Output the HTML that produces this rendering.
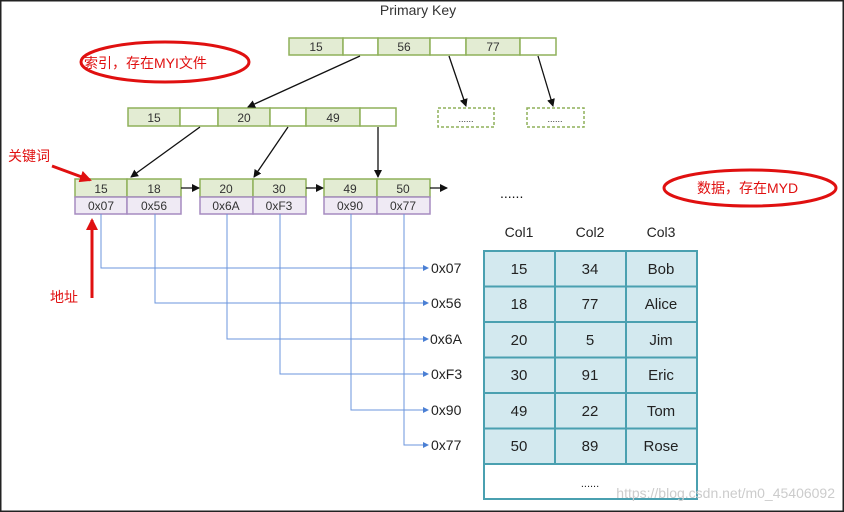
<!DOCTYPE html>
<html><head><meta charset="utf-8"><style>
html,body{margin:0;padding:0;background:#fff}
svg{display:block}
text{font-family:"Liberation Sans","Noto Sans CJK SC",sans-serif}
</style></head><body>
<svg width="844" height="512" viewBox="0 0 844 512" xmlns="http://www.w3.org/2000/svg">
<defs>
<marker id="a" markerWidth="8" markerHeight="8" refX="7" refY="4" orient="auto" markerUnits="userSpaceOnUse"><path d="M0,0 L8,4 L0,8 z" fill="#111"/></marker>
<marker id="b" markerWidth="6" markerHeight="6" refX="5" refY="3" orient="auto" markerUnits="userSpaceOnUse"><path d="M0,0 L6,3 L0,6 z" fill="#4a7fd4"/></marker>
<marker id="r" markerWidth="12" markerHeight="12" refX="10" refY="6" orient="auto" markerUnits="userSpaceOnUse"><path d="M0,0 L12,6 L0,12 z" fill="#e01010"/></marker>
</defs>
<rect x="0.5" y="0.5" width="843" height="511" fill="#fff" stroke="#222" stroke-width="2"/>
<text x="418" y="15" font-size="14" text-anchor="middle" fill="#333">Primary Key</text>
<g stroke="#8fb15a" stroke-width="1.5" font-size="12">
<rect x="289" y="38" width="54" height="17" fill="#e3ecd3"/><rect x="343" y="38" width="35" height="17" fill="#fff"/>
<rect x="378" y="38" width="52" height="17" fill="#e3ecd3"/><rect x="430" y="38" width="36" height="17" fill="#fff"/>
<rect x="466" y="38" width="54" height="17" fill="#e3ecd3"/><rect x="520" y="38" width="36" height="17" fill="#fff"/>
<rect x="128" y="108" width="52" height="18" fill="#e3ecd3"/><rect x="180" y="108" width="38" height="18" fill="#fff"/>
<rect x="218" y="108" width="52" height="18" fill="#e3ecd3"/><rect x="270" y="108" width="36" height="18" fill="#fff"/>
<rect x="306" y="108" width="54" height="18" fill="#e3ecd3"/><rect x="360" y="108" width="36" height="18" fill="#fff"/>
<rect x="438" y="108" width="56" height="19" fill="#fff" stroke-dasharray="3,2"/>
<rect x="527" y="108" width="57" height="19" fill="#fff" stroke-dasharray="3,2"/>
<rect x="75" y="179" width="52" height="18" fill="#e3ecd3"/><rect x="127" y="179" width="54" height="18" fill="#e3ecd3"/>
<rect x="200" y="179" width="53" height="18" fill="#e3ecd3"/><rect x="253" y="179" width="53" height="18" fill="#e3ecd3"/>
<rect x="324" y="179" width="53" height="18" fill="#e3ecd3"/><rect x="377" y="179" width="53" height="18" fill="#e3ecd3"/>
</g>
<g stroke="#a68bc0" stroke-width="1.5" fill="#efeaf4">
<rect x="75" y="197" width="52" height="17"/><rect x="127" y="197" width="54" height="17"/>
<rect x="200" y="197" width="53" height="17"/><rect x="253" y="197" width="53" height="17"/>
<rect x="324" y="197" width="53" height="17"/><rect x="377" y="197" width="53" height="17"/>
</g>
<g font-size="12" fill="#333" text-anchor="middle">
<text x="316" y="51">15</text><text x="404" y="51">56</text><text x="493" y="51">77</text>
<text x="154" y="122">15</text><text x="244" y="122">20</text><text x="333" y="122">49</text>
<text x="466" y="122" font-size="9">......</text><text x="555" y="122" font-size="9">......</text>
<text x="101" y="193">15</text><text x="154" y="193">18</text><text x="226" y="193">20</text><text x="279" y="193">30</text><text x="350" y="193">49</text><text x="403" y="193">50</text>
<text x="101" y="210">0x07</text><text x="154" y="210">0x56</text><text x="226" y="210">0x6A</text><text x="279" y="210">0xF3</text><text x="350" y="210">0x90</text><text x="403" y="210">0x77</text>
</g>
<g stroke="#111" stroke-width="1.3" marker-end="url(#a)">
<line x1="360" y1="56" x2="248" y2="107"/>
<line x1="449" y1="56" x2="466" y2="106"/>
<line x1="538" y1="56" x2="553" y2="106"/>
<line x1="200" y1="127" x2="131" y2="177"/>
<line x1="288" y1="127" x2="254" y2="177"/>
<line x1="378" y1="127" x2="378" y2="177"/>
<line x1="181" y1="188" x2="199" y2="188"/>
<line x1="306" y1="188" x2="323" y2="188"/>
<line x1="430" y1="188" x2="447" y2="188"/>
</g>
<text x="500" y="198" font-size="14" fill="#111">......</text>
<g stroke="#6b95dc" stroke-width="1" fill="none" marker-end="url(#b)">
<path d="M101,214 V268 H428"/><path d="M155,214 V303 H428"/><path d="M227,214 V339 H428"/>
<path d="M280,214 V374 H428"/><path d="M351,214 V410 H428"/><path d="M404,214 V445 H428"/>
</g>
<g font-size="14" fill="#222">
<text x="431" y="273">0x07</text><text x="431" y="308">0x56</text><text x="430" y="344">0x6A</text>
<text x="431" y="379">0xF3</text><text x="431" y="415">0x90</text><text x="431" y="450">0x77</text>
</g>
<g font-size="14" fill="#222" text-anchor="middle">
<text x="519" y="237">Col1</text><text x="590" y="237">Col2</text><text x="661" y="237">Col3</text>
</g>
<rect x="484" y="251" width="213" height="248" fill="#fff" stroke="#4aa0b0" stroke-width="2"/>
<rect x="484" y="251" width="213" height="213" fill="#d3e9ef" stroke="#4aa0b0" stroke-width="2"/>
<g stroke="#4aa0b0" stroke-width="2">
<line x1="555" y1="251" x2="555" y2="464"/><line x1="626" y1="251" x2="626" y2="464"/>
<line x1="484" y1="286.5" x2="697" y2="286.5"/><line x1="484" y1="322" x2="697" y2="322"/>
<line x1="484" y1="357.5" x2="697" y2="357.5"/><line x1="484" y1="393" x2="697" y2="393"/>
<line x1="484" y1="428.5" x2="697" y2="428.5"/>
</g>
<g font-size="15" fill="#222" text-anchor="middle">
<text x="519" y="274">15</text><text x="590" y="274">34</text><text x="661" y="274">Bob</text>
<text x="519" y="309">18</text><text x="590" y="309">77</text><text x="661" y="309">Alice</text>
<text x="519" y="345">20</text><text x="590" y="345">5</text><text x="661" y="345">Jim</text>
<text x="519" y="380">30</text><text x="590" y="380">91</text><text x="661" y="380">Eric</text>
<text x="519" y="416">49</text><text x="590" y="416">22</text><text x="661" y="416">Tom</text>
<text x="519" y="451">50</text><text x="590" y="451">89</text><text x="661" y="451">Rose</text>
<text x="590" y="487" font-size="11">......</text>
</g>
<text x="835" y="498" font-size="14" fill="#ccc" text-anchor="end">https://blog.csdn.net/m0_45406092</text>
<ellipse cx="165" cy="62" rx="84" ry="20" fill="none" stroke="#e01010" stroke-width="3"/>
<text x="84" y="68" font-size="14" fill="#e01010">索引，存在MYI文件</text>
<ellipse cx="750" cy="188" rx="86" ry="18" fill="none" stroke="#e01010" stroke-width="3"/>
<text x="697" y="193" font-size="14" fill="#e01010">数据，存在MYD</text>
<text x="8" y="161" font-size="14" fill="#e01010">关键词</text>
<line x1="52" y1="166" x2="90" y2="180" stroke="#e01010" stroke-width="3" marker-end="url(#r)"/>
<text x="50" y="302" font-size="14" fill="#e01010">地址</text>
<line x1="92" y1="298" x2="92" y2="220" stroke="#e01010" stroke-width="3" marker-end="url(#r)"/>
</svg>
</body></html>
